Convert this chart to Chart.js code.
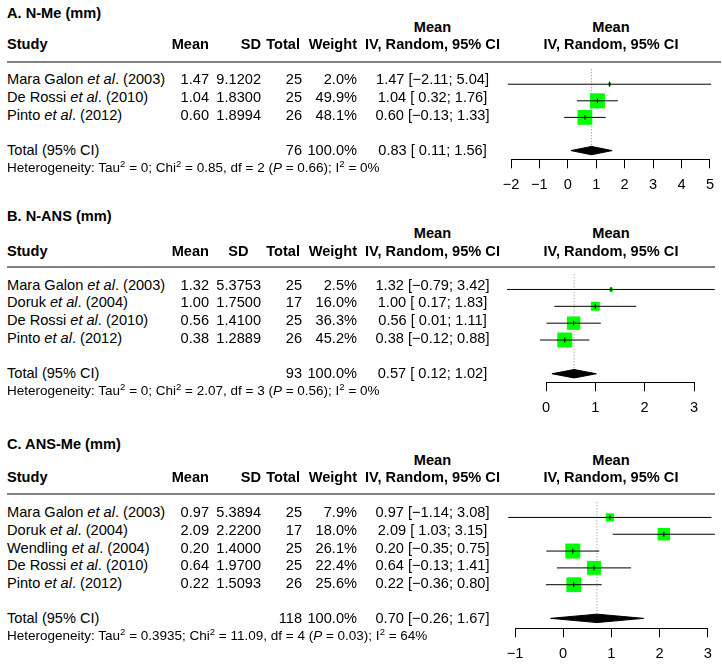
<!DOCTYPE html>
<html lang="en">
<head>
<meta charset="UTF-8" />
<title>Forest plots</title>
<style>
  html, body { margin: 0; padding: 0; background: #fff; }
  #page { position: relative; width: 722px; height: 666px; overflow: hidden;
    font-family: "Liberation Sans", Arial, sans-serif; font-size: 14.6px; color: #000; }
  .t { position: absolute; line-height: 16px; white-space: pre; }
  .b { font-weight: bold; }
  .het { font-size: 13.5px; }
  .rule { position: absolute; height: 2px; background: #808080; }
  canvas { position: absolute; left: 440px; }
  sup { font-size: 9.5px; line-height: 0; vertical-align: 5px; }
</style>
</head>
<body>
<div id="page">
  <canvas id="chartA"></canvas>
  <canvas id="chartB"></canvas>
  <canvas id="chartC"></canvas>
</div>
<script src="https://cdn.jsdelivr.net/npm/chart.js"></script>
<script>
// ---- A. N-Me
const studiesA = ["Mara Galon", "De Rossi", "Pinto"];
const yearsA = [2003, 2010, 2012];
const meanA = [1.47, 1.04, 0.60];
const sdA = [9.1202, 1.83, 1.8994];
const nA = [25, 25, 26];
const weightA = [2.0, 49.9, 48.1];
const lowerA = [-2.11, 0.32, -0.13];
const upperA = [5.04, 1.76, 1.33];
const pooledA = [0.83, 0.11, 1.56]; // estimate, lower, upper
const totalA = 76;
const hetA = ["0", "0.85", "2", "0.66", "0"]; // tau2, chi2, df, P, I2
const ticksA = [-2, -1, 0, 1, 2, 3, 4, 5];

// ---- B. N-ANS
const studiesB = ["Mara Galon", "Doruk", "De Rossi", "Pinto"];
const yearsB = [2003, 2004, 2010, 2012];
const meanB = [1.32, 1.00, 0.56, 0.38];
const sdB = [5.3753, 1.75, 1.41, 1.2889];
const nB = [25, 17, 25, 26];
const weightB = [2.5, 16.0, 36.3, 45.2];
const lowerB = [-0.79, 0.17, 0.01, -0.12];
const upperB = [3.42, 1.83, 1.11, 0.88];
const pooledB = [0.57, 0.12, 1.02];
const totalB = 93;
const hetB = ["0", "2.07", "3", "0.56", "0"];
const ticksB = [0, 1, 2, 3];

// ---- C. ANS-Me
const studiesC = ["Mara Galon", "Doruk", "Wendling", "De Rossi", "Pinto"];
const yearsC = [2003, 2004, 2004, 2010, 2012];
const meanC = [0.97, 2.09, 0.20, 0.64, 0.22];
const sdC = [5.3894, 2.22, 1.40, 1.97, 1.5093];
const nC = [25, 17, 25, 25, 26];
const weightC = [7.9, 18.0, 26.1, 22.4, 25.6];
const lowerC = [-1.14, 1.03, -0.35, -0.13, -0.36];
const upperC = [3.08, 3.15, 0.75, 1.41, 0.80];
const pooledC = [0.70, -0.26, 1.67];
const totalC = 118;
const hetC = ["0.3935", "11.09", "4", "0.03", "64"];
const ticksC = [-1, 0, 1, 2, 3];

const panels = [
  { id: "chartA", title: "A. N-Me (mm)", studies: studiesA, years: yearsA, mean: meanA, sd: sdA, n: nA,
    weight: weightA, lower: lowerA, upper: upperA, pooled: pooledA, total: totalA, het: hetA, ticks: ticksA,
    titleY: 12.5, meanY: 27, studyY: 44, ruleY: 61.5, ruleEnd: 721, row0: 79, pitch: 17.75, axisY: 159.3,
    x0: 511, x1: 713.3, sdCentered: false },
  { id: "chartB", title: "B. N-ANS (mm)", studies: studiesB, years: yearsB, mean: meanB, sd: sdB, n: nB,
    weight: weightB, lower: lowerB, upper: upperB, pooled: pooledB, total: totalB, het: hetB, ticks: ticksB,
    titleY: 216, meanY: 233, studyY: 250.5, ruleY: 267, ruleEnd: 715, row0: 284.7, pitch: 17.72, axisY: 382.3,
    x0: 546, x1: 694, sdCentered: true },
  { id: "chartC", title: "C. ANS-Me (mm)", studies: studiesC, years: yearsC, mean: meanC, sd: sdC, n: nC,
    weight: weightC, lower: lowerC, upper: upperC, pooled: pooledC, total: totalC, het: hetC, ticks: ticksC,
    titleY: 443.8, meanY: 459.7, studyY: 477.2, ruleY: 494.3, ruleEnd: 715, row0: 512.3, pitch: 17.6, axisY: 628.3,
    x0: 515, x1: 707.7, sdCentered: false }
];

const page = document.getElementById("page");
const MINUS = "\u2212";

function put(html, x, y, align, cls) {
  const d = document.createElement("div");
  d.className = "t" + (cls ? " " + cls : "");
  d.innerHTML = html;
  d.style.top = (y - 8) + "px";
  if (align === "left") d.style.left = x + "px";
  else if (align === "right") d.style.right = (722 - x) + "px";
  else { d.style.left = (x - 150) + "px"; d.style.width = "300px"; d.style.textAlign = "center"; }
  page.appendChild(d);
}

function ciText(est, lo, hi) {
  return est.toFixed(2) + " [" + (lo < 0 ? MINUS : " ") + Math.abs(lo).toFixed(2) + "; " +
    (hi < 0 ? MINUS : "") + Math.abs(hi).toFixed(2) + "]";
}

Chart.defaults.font.family = "'Liberation Sans', Arial, sans-serif";
Chart.defaults.font.size = 14.6;
Chart.defaults.color = "#000";

panels.forEach(function (p) {
  // table text
  put(p.title, 7, p.titleY, "left", "b");
  put("Mean", 432.5, p.meanY, "center", "b");
  put("Mean", 611, p.meanY, "center", "b");
  put("Study", 7, p.studyY, "left", "b");
  put("Mean", 209, p.studyY, "right", "b");
  if (p.sdCentered) put("SD", 238.5, p.studyY, "center", "b");
  else put("SD", 261, p.studyY, "right", "b");
  put("Total", 300, p.studyY, "right", "b");
  put("Weight", 357, p.studyY, "right", "b");
  put("IV, Random, 95% CI", 432.5, p.studyY, "center", "b");
  put("IV, Random, 95% CI", 611, p.studyY, "center", "b");

  const rule = document.createElement("div");
  rule.className = "rule";
  rule.style.left = "7px";
  rule.style.width = (p.ruleEnd - 7) + "px";
  rule.style.top = (p.ruleY - 1) + "px";
  page.appendChild(rule);

  p.studies.forEach(function (s, i) {
    const y = p.row0 + i * p.pitch;
    put(s + " <i>et al</i>. (" + p.years[i] + ")", 7, y, "left");
    put(p.mean[i].toFixed(2), 209, y, "right");
    put(p.sd[i].toFixed(4), 261, y, "right");
    put(String(p.n[i]), 302, y, "right");
    put(p.weight[i].toFixed(1) + "%", 357, y, "right");
    put(ciText(p.mean[i], p.lower[i], p.upper[i]), 432.5, y, "center");
  });

  const totIdx = p.studies.length + 1;
  const totY = p.row0 + totIdx * p.pitch;
  put("Total (95% CI)", 7, totY, "left");
  put(String(p.total), 302, totY, "right");
  put("100.0%", 357, totY, "right");
  put(ciText(p.pooled[0], p.pooled[1], p.pooled[2]), 432.5, totY, "center");
  put("Heterogeneity: Tau<sup>2</sup> = " + p.het[0] + "; Chi<sup>2</sup> = " + p.het[1] +
      ", df = " + p.het[2] + " (<i>P</i> = " + p.het[3] + "); I<sup>2</sup> = " + p.het[4] + "%",
      7, totY + 18, "left", "het");

  // chart geometry
  const W = 282, scaleH = 40;
  const areaTop = p.row0 - p.pitch;
  const canvasTop = Math.floor(areaTop - 4);
  const padTop = areaTop - canvasTop;
  const areaH = p.axisY - areaTop;
  const H = Math.ceil(padTop + areaH + scaleH);
  const padBottom = H - padTop - areaH - scaleH;
  const canvas = document.getElementById(p.id);
  canvas.width = W;
  canvas.height = H;
  canvas.style.top = canvasTop + "px";
  canvas.style.width = W + "px";
  canvas.style.height = H + "px";

  const wmax = Math.max.apply(null, p.weight);
  const est = p.pooled[0];
  const datasets = [];
  datasets.push({
    type: "line", data: [{ x: est, y: -0.9 }, { x: est, y: totIdx - 0.25 }],
    borderColor: "#8a8a8a", borderWidth: 1, borderDash: [1, 2], pointRadius: 0, order: 5, clip: false
  });
  datasets.push({
    type: "scatter", data: p.mean.map(function (m, i) { return { x: m, y: i }; }),
    pointStyle: "rect",
    pointRadius: p.weight.map(function (w) { return 15 * Math.sqrt(w / wmax) / Math.SQRT2; }),
    backgroundColor: "#00ff00", borderColor: "#00ff00", borderWidth: 0, order: 4, clip: false
  });
  p.lower.forEach(function (lo, i) {
    datasets.push({
      type: "line", data: [{ x: lo, y: i }, { x: p.upper[i], y: i }],
      borderColor: "#000", borderWidth: 1, pointRadius: 0, order: 3, clip: false
    });
  });
  datasets.push({
    type: "scatter", data: p.mean.map(function (m, i) { return { x: m, y: i }; }),
    pointStyle: "line", rotation: 90, pointRadius: 2.5,
    borderColor: "#000", borderWidth: 1, order: 2, clip: false
  });
  datasets.push({
    type: "line",
    data: [
      { x: p.pooled[1], y: totIdx }, { x: est, y: totIdx - 0.25 },
      { x: p.pooled[2], y: totIdx }, { x: est, y: totIdx + 0.25 },
      { x: p.pooled[1], y: totIdx }
    ],
    fill: "shape", backgroundColor: "#000", borderColor: "#000", borderWidth: 1,
    pointRadius: 0, tension: 0, order: 1, clip: false
  });

  new Chart(canvas.getContext("2d"), {
    type: "scatter",
    data: { datasets: datasets },
    options: {
      responsive: false,
      animation: false,
      devicePixelRatio: 1,
      events: [],
      layout: { padding: { left: p.x0 - 440, right: 722 - p.x1, top: padTop, bottom: padBottom } },
      plugins: { legend: { display: false }, tooltip: { enabled: false } },
      scales: {
        x: {
          type: "linear", position: "bottom",
          min: p.ticks[0], max: p.ticks[p.ticks.length - 1],
          afterBuildTicks: function (s) { s.ticks = p.ticks.map(function (v) { return { value: v }; }); },
          afterFit: function (s) { s.height = scaleH; },
          grid: { drawOnChartArea: false, drawTicks: true, tickLength: 9, color: "#000", lineWidth: 1 },
          border: { display: true, color: "#000", width: 1 },
          ticks: {
            padding: 8, color: "#000", maxRotation: 0, autoSkip: false,
            callback: function (v) { return v < 0 ? MINUS + Math.abs(v) : String(v); }
          }
        },
        y: {
          type: "linear", display: false, reverse: true,
          min: -1, max: (p.axisY - p.row0) / p.pitch
        }
      }
    }
  });
});
</script>
</body>
</html>
